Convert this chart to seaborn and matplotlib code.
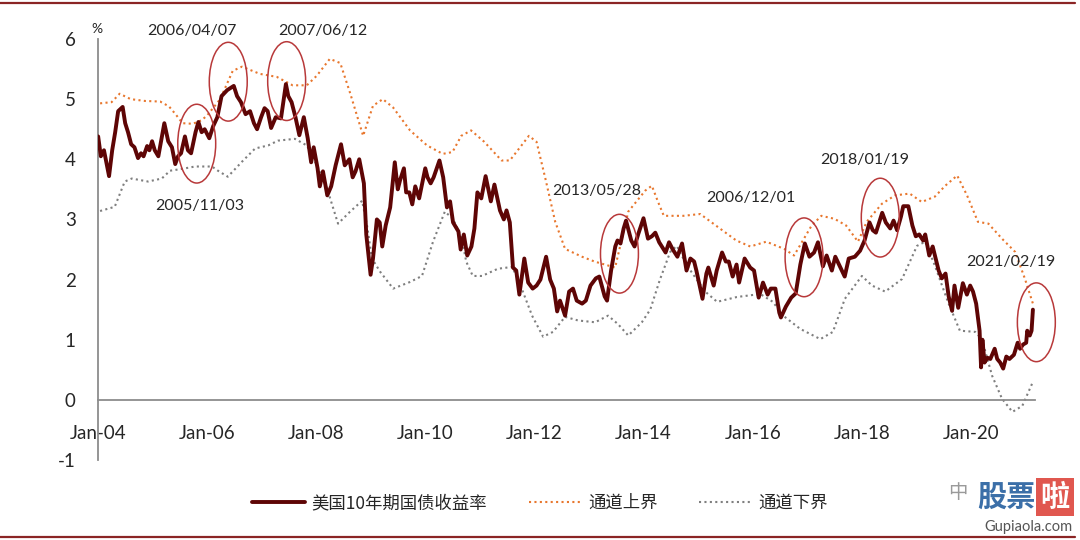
import numpy as np
import pandas as pd
import matplotlib
matplotlib.use("Agg")
import matplotlib.pyplot as plt
import matplotlib.dates as mdates
from matplotlib.patches import Ellipse, Rectangle
from matplotlib.lines import Line2D
import seaborn as sns

# ---------------- data ----------------
yield_dates = [
    "2004-01-02", "2004-01-20", "2004-02-10", "2004-03-15", "2004-04-05", "2004-04-25", "2004-05-15", "2004-06-14",
    "2004-07-01", "2004-07-20", "2004-08-10", "2004-09-01", "2004-09-25", "2004-10-15", "2004-11-01", "2004-11-25",
    "2004-12-10", "2004-12-28",
    "2005-01-15", "2005-02-08", "2005-03-20", "2005-04-15", "2005-05-10", "2005-06-01", "2005-06-20", "2005-07-10",
    "2005-08-05", "2005-08-25", "2005-09-15", "2005-10-15", "2005-11-03", "2005-11-25", "2005-12-15",
    "2006-01-15", "2006-02-10", "2006-03-10", "2006-04-07", "2006-05-15", "2006-06-28", "2006-07-20", "2006-08-15",
    "2006-09-15", "2006-10-15", "2006-11-10", "2006-12-01", "2006-12-28",
    "2007-01-20", "2007-02-10", "2007-03-05", "2007-04-05", "2007-05-10", "2007-06-12", "2007-06-28", "2007-07-20",
    "2007-08-15", "2007-09-10", "2007-10-10", "2007-11-05", "2007-11-28", "2007-12-15",
    "2008-01-10", "2008-01-25", "2008-02-15", "2008-03-15", "2008-04-10", "2008-05-10", "2008-06-15", "2008-07-10",
    "2008-08-10", "2008-09-01", "2008-09-20", "2008-10-15", "2008-11-15", "2008-12-01", "2008-12-30",
    "2009-01-15", "2009-02-10", "2009-03-01", "2009-03-18", "2009-04-10", "2009-05-10", "2009-06-10", "2009-06-30",
    "2009-07-15", "2009-08-10", "2009-08-25", "2009-09-15", "2009-10-05", "2009-10-25", "2009-11-20", "2009-12-31",
    "2010-01-15", "2010-02-05", "2010-02-25", "2010-04-05", "2010-04-30", "2010-05-25", "2010-06-15", "2010-07-05",
    "2010-08-10", "2010-08-25", "2010-09-15", "2010-10-08", "2010-11-05", "2010-11-25", "2010-12-15",
    "2011-01-10", "2011-02-08", "2011-03-15", "2011-04-08", "2011-05-15", "2011-06-10", "2011-06-28", "2011-07-20",
    "2011-08-10", "2011-09-01", "2011-09-22", "2011-10-25", "2011-11-20", "2011-12-20",
    "2012-01-15", "2012-02-10", "2012-03-19", "2012-04-15", "2012-05-10", "2012-06-01", "2012-06-20", "2012-07-24",
    "2012-08-20", "2012-09-15", "2012-10-10", "2012-11-15", "2012-12-10",
    "2013-01-10", "2013-02-15", "2013-03-10", "2013-04-15", "2013-05-01", "2013-05-28", "2013-06-25", "2013-07-10",
    "2013-07-30", "2013-08-20", "2013-09-05", "2013-10-10", "2013-11-01", "2013-11-25", "2013-12-31",
    "2014-01-30", "2014-02-25", "2014-03-20", "2014-04-15", "2014-05-28", "2014-06-20", "2014-07-15", "2014-08-15",
    "2014-09-15", "2014-10-15", "2014-11-10", "2014-12-05", "2014-12-20",
    "2015-01-30", "2015-02-25", "2015-03-10", "2015-04-15", "2015-05-05", "2015-06-10", "2015-07-05", "2015-07-25",
    "2015-08-20", "2015-09-15", "2015-10-02", "2015-11-08", "2015-12-15",
    "2016-01-10", "2016-02-10", "2016-03-10", "2016-04-10", "2016-05-01", "2016-06-01", "2016-06-27", "2016-07-08",
    "2016-08-10", "2016-09-15", "2016-10-15", "2016-11-15", "2016-12-15",
    "2017-01-15", "2017-02-15", "2017-03-13", "2017-04-15", "2017-05-10", "2017-06-14", "2017-07-07", "2017-08-01",
    "2017-09-08", "2017-10-05", "2017-11-15", "2017-12-20",
    "2018-01-19", "2018-02-21", "2018-03-15", "2018-04-05", "2018-05-17", "2018-06-10", "2018-07-10", "2018-08-01",
    "2018-08-25", "2018-09-20", "2018-10-05", "2018-11-08", "2018-12-05", "2018-12-28",
    "2019-01-20", "2019-02-15", "2019-03-01", "2019-03-28", "2019-04-20", "2019-05-30", "2019-06-20", "2019-07-15",
    "2019-08-05", "2019-08-28", "2019-09-13", "2019-10-08", "2019-11-08", "2019-12-05", "2019-12-27",
    "2020-01-15", "2020-02-05", "2020-02-28", "2020-03-09", "2020-03-18", "2020-04-01", "2020-04-20", "2020-05-10",
    "2020-06-08", "2020-06-25", "2020-07-15", "2020-08-04", "2020-08-25", "2020-09-15", "2020-10-15", "2020-11-09",
    "2020-11-25", "2020-12-15",
    "2021-01-05", "2021-01-12", "2021-01-29", "2021-02-10", "2021-02-19",
]
yield_values = [
    4.38, 4.05, 4.15, 3.72, 4.15, 4.45, 4.80, 4.87,
    4.60, 4.45, 4.25, 4.20, 4.02, 4.10, 4.05, 4.22,
    4.15, 4.30,
    4.15, 4.05, 4.60, 4.30, 4.20, 3.92, 4.05, 4.10,
    4.38, 4.15, 4.10, 4.45, 4.62, 4.45, 4.50,
    4.35, 4.55, 4.70, 5.05, 5.15, 5.22, 5.05, 4.95,
    4.75, 4.80, 4.60, 4.50, 4.70,
    4.85, 4.80, 4.52, 4.70, 4.68, 5.25, 5.05, 4.95,
    4.70, 4.40, 4.70, 4.35, 3.95, 4.20,
    3.85, 3.55, 3.80, 3.40, 3.55, 3.90, 4.25, 3.90,
    4.00, 3.70, 3.80, 4.00, 3.60, 2.75, 2.08,
    2.35, 3.00, 2.95, 2.55, 2.90, 3.20, 3.95, 3.50,
    3.65, 3.85, 3.45, 3.45, 3.25, 3.55, 3.35, 3.85,
    3.70, 3.60, 3.70, 3.98, 3.70, 3.20, 3.30, 2.95,
    2.80, 2.50, 2.75, 2.40, 2.55, 2.85, 3.45,
    3.35, 3.72, 3.30, 3.58, 3.15, 3.00, 3.15, 2.95,
    2.20, 2.15, 1.75, 2.35, 1.95, 1.85,
    1.90, 2.00, 2.38, 2.00, 1.85, 1.47, 1.65, 1.40,
    1.80, 1.85, 1.65, 1.60, 1.65,
    1.90, 2.02, 2.05, 1.72, 1.65, 2.15, 2.55, 2.65,
    2.60, 2.85, 2.98, 2.65, 2.55, 2.75, 3.02,
    2.68, 2.72, 2.78, 2.62, 2.45, 2.62, 2.50, 2.38,
    2.60, 2.15, 2.35, 2.30, 2.15,
    1.68, 2.10, 2.20, 1.90, 2.15, 2.45, 2.30, 2.30,
    2.05, 2.25, 1.95, 2.35, 2.20,
    2.15, 1.70, 1.95, 1.75, 1.85, 1.85, 1.45, 1.37,
    1.55, 1.70, 1.77, 2.25, 2.60,
    2.38, 2.45, 2.62, 2.22, 2.40, 2.15, 2.38, 2.25,
    2.05, 2.35, 2.38, 2.48,
    2.65, 2.95, 2.82, 2.78, 3.11, 2.95, 2.85, 2.98,
    2.82, 3.05, 3.22, 3.22, 2.90, 2.72,
    2.75, 2.65, 2.75, 2.40, 2.55, 2.15, 2.02, 2.10,
    1.72, 1.48, 1.90, 1.53, 1.94, 1.75, 1.90,
    1.80, 1.60, 1.15, 0.54, 1.00, 0.62, 0.70, 0.68,
    0.85, 0.68, 0.62, 0.52, 0.72, 0.68, 0.75, 0.95,
    0.85, 0.92,
    0.95, 1.15, 1.07, 1.15, 1.50,
]

upper_dates = [
    "2004-01-15", "2004-04-01", "2004-05-25", "2004-08-07", "2004-11-10", "2005-02-20", "2005-04-20", "2005-06-03",
    "2005-07-20", "2005-09-27", "2005-11-25", "2006-01-01", "2006-03-29", "2006-06-21", "2006-08-22", "2006-12-20",
    "2007-04-12", "2007-07-27", "2007-10-30", "2008-01-05", "2008-04-01", "2008-06-10", "2008-08-15", "2008-11-10",
    "2009-01-15", "2009-03-22", "2009-05-30", "2009-09-20", "2010-01-12", "2010-04-27", "2010-07-01", "2010-08-29",
    "2010-11-03", "2011-01-30", "2011-05-26", "2011-07-20", "2011-11-25", "2012-01-15", "2012-03-14", "2012-05-19",
    "2012-07-24", "2012-11-14", "2013-02-06", "2013-06-24", "2013-09-20", "2014-01-12", "2014-02-25", "2014-04-06",
    "2014-05-16", "2014-09-24", "2015-01-15", "2015-05-26", "2015-09-13", "2015-12-16", "2016-04-01", "2016-07-30",
    "2016-10-04", "2017-01-30", "2017-04-05", "2017-07-02", "2017-09-17", "2017-12-06", "2018-02-02", "2018-05-15",
    "2018-08-11", "2018-11-17", "2019-02-06", "2019-05-05", "2019-07-13", "2019-10-01", "2019-12-06", "2020-02-17",
    "2020-04-27", "2020-07-27", "2020-10-23", "2020-12-28", "2021-02-19",
]
upper_values = [
    4.93, 4.95, 5.09, 5.00, 4.97, 4.96, 4.88, 4.75,
    4.60, 4.59, 4.65, 4.73, 5.00, 5.47, 5.54, 5.42,
    5.37, 5.23, 5.23, 5.39, 5.67, 5.60, 5.10, 4.39,
    4.89, 5.00, 4.86, 4.48, 4.23, 4.09, 4.12, 4.39,
    4.48, 4.29, 3.98, 3.98, 4.39, 4.29, 3.68, 2.96,
    2.51, 2.38, 2.30, 2.20, 3.13, 3.48, 3.56, 3.30,
    3.06, 3.06, 3.09, 2.85, 2.65, 2.55, 2.63, 2.51,
    2.40, 2.90, 3.06, 3.01, 2.90, 2.63, 2.96, 3.26,
    3.40, 3.43, 3.29, 3.38, 3.56, 3.73, 3.40, 2.96,
    2.93, 2.68, 2.46, 2.01, 1.60,
]

lower_dates = [
    "2004-01-15", "2004-04-22", "2004-06-28", "2004-08-14", "2004-12-01", "2005-03-03", "2005-04-27", "2005-07-16",
    "2005-10-12", "2006-02-02", "2006-03-14", "2006-05-19", "2006-08-22", "2006-11-18", "2007-02-13", "2007-04-20",
    "2007-08-11", "2007-10-30", "2008-01-05", "2008-03-14", "2008-05-26", "2008-08-15", "2008-11-03", "2008-12-06",
    "2009-01-08", "2009-03-04", "2009-05-30", "2009-09-20", "2009-12-09", "2010-02-21", "2010-05-11", "2010-07-05",
    "2010-09-02", "2010-10-01", "2010-11-14", "2011-01-15", "2011-05-01", "2011-08-04", "2011-09-13", "2011-12-16",
    "2012-02-28", "2012-05-04", "2012-07-24", "2012-10-19", "2013-02-10", "2013-05-08", "2013-07-13", "2013-09-20",
    "2013-12-20", "2014-02-14", "2014-04-20", "2014-06-28", "2014-08-11", "2014-10-19", "2015-02-17", "2015-05-08",
    "2015-09-17", "2016-02-21", "2016-05-15", "2016-07-23", "2016-11-14", "2017-03-29", "2017-06-21", "2017-09-09",
    "2018-01-01", "2018-03-10", "2018-06-06", "2018-09-27", "2019-01-05", "2019-03-01", "2019-05-05", "2019-07-31",
    "2019-10-19", "2020-01-30", "2020-03-14", "2020-05-22", "2020-07-27", "2020-10-05", "2020-12-10", "2021-02-19",
]
lower_values = [
    3.14, 3.21, 3.63, 3.68, 3.63, 3.68, 3.81, 3.84,
    3.88, 3.88, 3.81, 3.71, 3.96, 4.18, 4.23, 4.31,
    4.34, 4.23, 3.90, 3.51, 2.93, 3.13, 3.31, 2.90,
    2.35, 2.13, 1.85, 1.96, 2.06, 2.63, 3.13, 3.01,
    2.68, 2.30, 2.06, 2.06, 2.18, 2.21, 2.01, 1.40,
    1.05, 1.13, 1.38, 1.32, 1.29, 1.40, 1.26, 1.07,
    1.29, 1.50, 2.00, 2.46, 2.56, 2.23, 1.80, 1.63,
    1.71, 1.76, 1.63, 1.40, 1.18, 1.01, 1.13, 1.68,
    2.06, 1.90, 1.80, 2.01, 2.56, 2.63, 2.23, 1.63,
    1.15, 1.13, 1.01, 0.40, 0.02, -0.20, -0.10, 0.30,
]

series_names = ["美国10年期国债收益率", "通道上界", "通道下界"]
x_tick_years = list(range(2004, 2021, 2))
y_ticks = [-1, 0, 1, 2, 3, 4, 5, 6]

# annotations: highlighted windows (ellipse centres) and their date labels
annot_labels = ["2005/11/03", "2006/04/07", "2007/06/12", "2013/05/28", "2006/12/01", "2018/01/19", "2021/02/19"]
ellipse_dates = ["2005-10-23", "2006-05-22", "2007-06-17", "2013-07-23", "2016-12-10", "2018-05-04", "2021-03-14"]
ellipse_values = [4.26, 5.29, 5.30, 2.43, 2.37, 3.03, 1.29]
label_dates = ["2005-11-14", "2005-09-20", "2008-02-17", "2013-02-24", "2015-12-20", "2018-01-22", "2020-09-27"]
label_values = [3.22, 6.14, 6.14, 3.48, 3.36, 3.98, 2.29]

# ---------------- style ----------------
sns.set_style("white")
plt.rcParams["font.family"] = ["Lato", "Noto Sans CJK SC", "DejaVu Sans"]

MAROON = "#5e0505"
ORANGE = "#e8772e"
GREY = "#7f7f7f"
AXIS = "#8c8c8c"
TEXT = "#262626"
RING = "#b8393a"

fig = plt.figure(figsize=(10.8, 5.4), dpi=100)
fig.patch.set_facecolor("white")
ax = fig.add_axes([98 / 1080, 80 / 540, 937 / 1080, 421 / 540])

df_y = pd.DataFrame({"date": pd.to_datetime(yield_dates), "value": yield_values})
df_u = pd.DataFrame({"date": pd.to_datetime(upper_dates), "value": upper_values})
df_l = pd.DataFrame({"date": pd.to_datetime(lower_dates), "value": lower_values})

dot = (0, (1, 1.6))
sns.lineplot(data=df_u, x="date", y="value", ax=ax, color=ORANGE, linewidth=1.5,
             linestyle=dot, estimator=None, sort=False, zorder=2)
sns.lineplot(data=df_l, x="date", y="value", ax=ax, color=GREY, linewidth=1.5,
             linestyle=dot, estimator=None, sort=False, zorder=2)
sns.lineplot(data=df_y, x="date", y="value", ax=ax, color=MAROON, linewidth=2.8,
             estimator=None, sort=False, zorder=3)

# axes limits / ticks
ax.set_xlim(pd.Timestamp("2004-01-01"), pd.Timestamp("2021-03-05"))
ax.set_ylim(-1, 6)
ax.set_yticks(y_ticks)
ax.set_yticklabels([str(v) for v in y_ticks])
ax.set_xticks([pd.Timestamp(f"{y}-01-01") for y in x_tick_years])
ax.xaxis.set_major_formatter(mdates.DateFormatter("%b-%y"))
ax.set_xlabel("")
ax.set_ylabel("")

for s in ["top", "right"]:
    ax.spines[s].set_visible(False)
ax.spines["bottom"].set_position(("data", 0))
for s in ["left", "bottom"]:
    ax.spines[s].set_color(AXIS)
    ax.spines[s].set_linewidth(1.3)

ax.tick_params(axis="y", direction="out", length=5, width=1.2, color=AXIS,
               labelsize=13.5, labelcolor=TEXT, pad=11)
ax.tick_params(axis="x", direction="out", length=5, width=1.2, color=AXIS,
               labelsize=13.5, labelcolor=TEXT, pad=13)
ax.grid(False)

fig.text(97 / 1080, 1 - 29 / 540, "%", ha="center", va="center", fontsize=10, color=TEXT)

# ellipses + labels
for d, v in zip(ellipse_dates, ellipse_values):
    e = Ellipse((mdates.date2num(pd.Timestamp(d)), v), width=254, height=1.31,
                fill=False, edgecolor=RING, linewidth=1.1, clip_on=False, zorder=4)
    ax.add_patch(e)
for lab, d, v in zip(annot_labels, label_dates, label_values):
    ax.text(pd.Timestamp(d), v, lab, ha="center", va="center", fontsize=11.5,
            color=TEXT, clip_on=False, zorder=5)

# legend
handles = [
    Line2D([], [], color=MAROON, linewidth=2.8),
    Line2D([], [], color=ORANGE, linewidth=1.5, linestyle=dot),
    Line2D([], [], color=GREY, linewidth=1.5, linestyle=dot),
]
leg = fig.legend(handles, series_names, loc="center", bbox_to_anchor=(540 / 1080, 1 - 503 / 540),
                 ncol=3, frameon=False, fontsize=12.5, handlelength=3.0, handletextpad=0.4,
                 columnspacing=2.4)
for t in leg.get_texts():
    t.set_color(TEXT)
    t.set_family(["Noto Sans CJK SC", "DejaVu Sans"])

# frame lines (top / bottom)
fig.add_artist(Line2D([0.0, 1075 / 1080], [1 - 3 / 540, 1 - 3 / 540], transform=fig.transFigure,
                      color="#8b2525", linewidth=1.6))
fig.add_artist(Line2D([0.0, 1075 / 1080], [1 - 537 / 540, 1 - 537 / 540], transform=fig.transFigure,
                      color="#8b2525", linewidth=1.6))

# watermark
fig.text(958 / 1080, 1 - 493 / 540, "中", ha="center", va="center", fontsize=14, color="#9a9a9a",
         family=["Noto Sans CJK SC"])
fig.text(1006 / 1080, 1 - 497 / 540, "股票", ha="center", va="center", fontsize=21, color="#3b6fa8",
         fontweight="bold", family=["Noto Sans CJK SC"])
fig.patches.append(Rectangle((1036 / 1080, 1 - 516 / 540), 38 / 1080, 38 / 540, transform=fig.transFigure,
                             facecolor="#e0574f", edgecolor="none", figure=fig))
fig.text(1055 / 1080, 1 - 497 / 540, "啦", ha="center", va="center", fontsize=21, color="white",
         fontweight="bold", family=["Noto Sans CJK SC"])
fig.text(1028 / 1080, 1 - 527 / 540, "Gupiaola.com", ha="center", va="center", fontsize=10.5, color="#555555")

fig.savefig("out.png", dpi=100, facecolor="white")
